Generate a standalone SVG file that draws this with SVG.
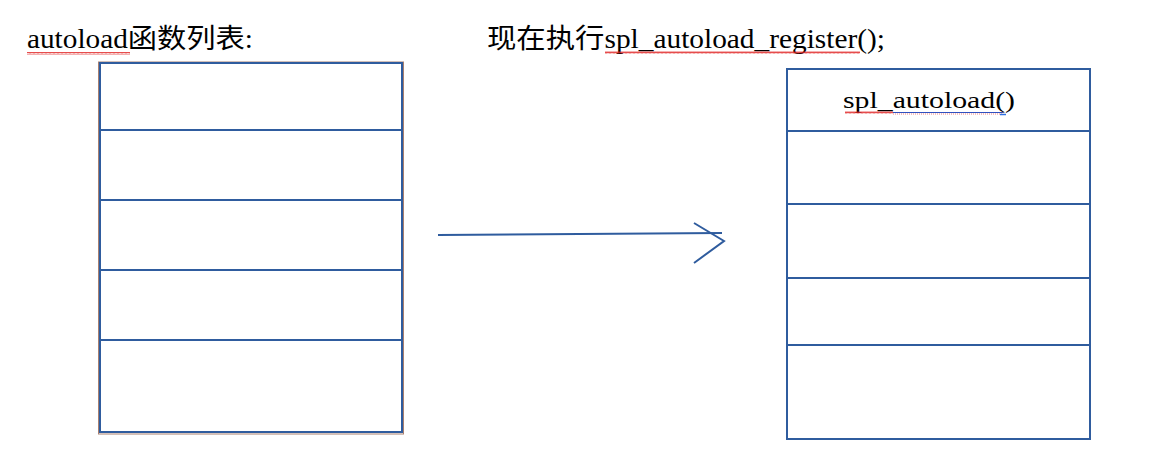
<svg xmlns="http://www.w3.org/2000/svg" width="1154" height="474" viewBox="0 0 1154 474">
<defs>
<style>
.t{font-family:"Liberation Serif","Noto Sans CJK SC",serif;fill:#000}
.box{fill:#fff;stroke:#2f5c9e;stroke-width:2}
.row{stroke:#2f5c9e;stroke-width:2}
</style>
<pattern id="wave" width="4" height="3" patternUnits="userSpaceOnUse">
<path d="M0 2.5 L1 0.5 L2 2.5 L3 0.5 L4 2.5" fill="none" stroke="#e02020" stroke-width="0.8"/>
</pattern>
</defs>
<rect width="1154" height="474" fill="#fff"/>
<g id="title-left">
<text class="t" x="27" y="48" font-size="27" textLength="226" lengthAdjust="spacingAndGlyphs">autoload函数列表:</text>
<rect x="27" y="52" width="103" height="3" fill="url(#wave)"/>
</g>
<g id="title-right">
<text class="t" x="487" y="48" font-size="27" textLength="398" lengthAdjust="spacingAndGlyphs">现在执行spl_autoload_register();</text>
<rect x="605" y="51" width="255" height="3" fill="url(#wave)"/>
</g>
<g id="left-list">
<rect x="98.5" y="62" width="305" height="372" fill="none" stroke="#a88070" stroke-width="1"/>
<rect class="box" x="100" y="63" width="302" height="369"/>
<line class="row" x1="100" y1="130" x2="402" y2="130"/>
<line class="row" x1="100" y1="200" x2="402" y2="200"/>
<line class="row" x1="100" y1="270" x2="402" y2="270"/>
<line class="row" x1="100" y1="340" x2="402" y2="340"/>
</g>
<g id="right-list">
<rect class="box" x="787" y="69" width="303" height="370"/>
<line class="row" x1="787" y1="131" x2="1090" y2="131"/>
<line class="row" x1="787" y1="204" x2="1090" y2="204"/>
<line class="row" x1="787" y1="278" x2="1090" y2="278"/>
<line class="row" x1="787" y1="345" x2="1090" y2="345"/>
<text class="t" x="843" y="108" font-size="24" textLength="172" lengthAdjust="spacingAndGlyphs">spl_autoload()</text>
<rect x="845" y="111" width="48" height="3" fill="url(#wave)"/>
<line x1="893" y1="112.5" x2="1003" y2="112.5" stroke="#3050c0" stroke-width="1"/>
<line x1="893" y1="114" x2="1003" y2="114" stroke="#e03030" stroke-width="0.6" stroke-dasharray="1 1"/>
<line x1="1000" y1="114.5" x2="1006" y2="114.5" stroke="#3070e0" stroke-width="1.5"/>
</g>
<g id="connectors">
<line x1="438" y1="235" x2="722" y2="233" stroke="#2f5c9e" stroke-width="2"/>
<polyline points="694,223 724,241 694,263" fill="none" stroke="#2f5c9e" stroke-width="2"/>
</g>
</svg>
